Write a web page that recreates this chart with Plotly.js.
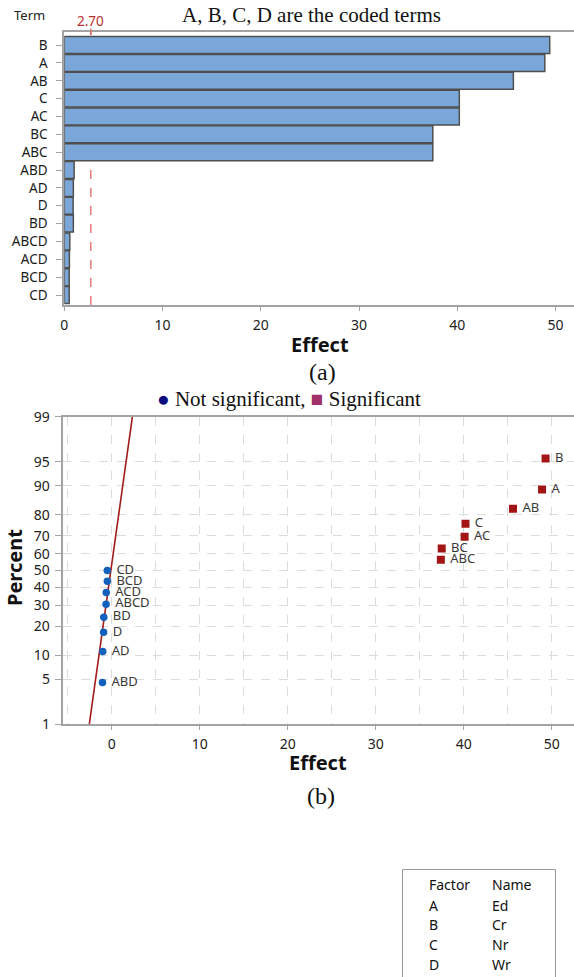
<!DOCTYPE html>
<html><head><meta charset="utf-8">
<script src="https://cdn.plot.ly/plotly-3.0.1.min.js"></script>
<style>html,body{margin:0;padding:0;background:#fff;}#chart{width:574px;height:977px;}</style>
</head><body><div id="chart"></div>
<script>
// ---- (a) Pareto chart of standardized effects ----
const terms = ['B','A','AB','C','AC','BC','ABC','ABD','AD','D','BD','ABCD','ACD','BCD','CD'];
const paretoEffects = [49.4,48.9,45.7,40.2,40.2,37.5,37.5,1.0,0.92,0.9,0.92,0.56,0.52,0.5,0.5];
const marginOfError = 2.70;

// ---- (b) Normal probability plot ----
const nsTerms = ['ABD','AD','D','BD','ABCD','ACD','BCD','CD'];
const nsEffects = [-1.05,-1.02,-0.92,-0.9,-0.64,-0.62,-0.5,-0.5];
const nsPercent = [4.5,11,17.5,24,30.5,37,43.5,50];
const sigTerms = ['ABC','BC','AC','C','AB','A','B'];
const sigEffects = [37.4,37.5,40.1,40.2,45.6,48.9,49.3];
const sigPercent = [56.5,63,69.5,76,82.5,89,95.5];
const fitEffects = [-2.55,2.35];
const fitPercent = [1,99];
const percentTicks = [1,5,10,20,30,40,50,60,70,80,90,95,99];

// ---- factor table ----
const factors = ['A','B','C','D'];
const factorNames = ['Ed','Cr','Nr','Wr'];

// normal probability scale (inverse normal CDF)
function normInv(p){
  const a=[-3.969683028665376e+01,2.209460984245205e+02,-2.759285104469687e+02,1.383577518672690e+02,-3.066479806614716e+01,2.506628277459239e+00];
  const b=[-5.447609879822406e+01,1.615858368580409e+02,-1.556989798598866e+02,6.680131188771972e+01,-1.328068155288572e+01];
  const c=[-7.784894002430293e-03,-3.223964580411365e-01,-2.400758277161838e+00,-2.549732539343734e+00,4.374664141464968e+00,2.938163982698783e+00];
  const d=[7.784695709041462e-03,3.224671290700398e-01,2.445134137142996e+00,3.754408661907416e+00];
  const pl=0.02425, ph=1-pl; let q,r;
  if(p<pl){q=Math.sqrt(-2*Math.log(p));return (((((c[0]*q+c[1])*q+c[2])*q+c[3])*q+c[4])*q+c[5])/((((d[0]*q+d[1])*q+d[2])*q+d[3])*q+1);}
  if(p<=ph){q=p-0.5;r=q*q;return (((((a[0]*r+a[1])*r+a[2])*r+a[3])*r+a[4])*r+a[5])*q/(((((b[0]*r+b[1])*r+b[2])*r+b[3])*r+b[4])*r+1);}
  q=Math.sqrt(-2*Math.log(1-p));return -(((((c[0]*q+c[1])*q+c[2])*q+c[3])*q+c[4])*q+c[5])/((((d[0]*q+d[1])*q+d[2])*q+d[3])*q+1);
}
const zp = v => normInv(v/100);

const W=574, H=977;
const px = x => x/W;
const py = y => 1 - y/H;
const SANS = 'Noto Sans, Open Sans, sans-serif';
const SERIF = 'Liberation Serif, Times New Roman, serif';
const AX = '#a3a3a3';
const GRID = '#dcdcdc';

const traces = [
  {type:'bar', orientation:'h', x:paretoEffects, y:terms, xaxis:'x', yaxis:'y',
   marker:{color:'#7ba7d8', line:{color:'#4f4f4f', width:1.5}}, hoverinfo:'x+y'},
  {type:'scatter', mode:'lines', x:fitEffects, y:fitPercent.map(zp), xaxis:'x2', yaxis:'y2',
   line:{color:'#a31b1b', width:1.6}, hoverinfo:'skip'},
  {type:'scatter', mode:'markers+text', x:nsEffects, y:nsPercent.map(zp), text:nsTerms,
   texttemplate:'\u00a0%{text}',
   textposition:'middle right', textfont:{family:SANS, size:13, color:'#3a3a3a'},
   xaxis:'x2', yaxis:'y2', marker:{symbol:'circle', size:7.5, color:'#1261bd'},
   customdata:nsPercent, hovertemplate:'%{text}: %{x}, %{customdata}%<extra></extra>'},
  {type:'scatter', mode:'markers+text', x:sigEffects, y:sigPercent.map(zp), text:sigTerms,
   texttemplate:'\u00a0%{text}',
   textposition:'middle right', textfont:{family:SANS, size:13, color:'#3a3a3a'},
   xaxis:'x2', yaxis:'y2', marker:{symbol:'square', size:8, color:'#a31515'},
   customdata:sigPercent, hovertemplate:'%{text}: %{x}, %{customdata}%<extra></extra>'}
];

function ann(text, x, y, font, extra){
  return Object.assign({text, x:px(x), y:py(y), xref:'paper', yref:'paper', showarrow:false,
    xanchor:'center', yanchor:'middle', font}, extra||{});
}

const annotations = [
  ann('A, B, C, D are the coded terms', 311, 15, {family:SERIF, size:21, color:'#111'}),
  ann('Term', 29, 15.5, {family:SANS, size:13, color:'#222'}),
  {text:marginOfError.toFixed(2), x:marginOfError, xref:'x', y:py(20.5), yref:'paper', showarrow:false,
   xanchor:'center', yanchor:'middle', font:{family:SANS, size:13.5, color:'#b8302e'}},
  ann('<b>Effect</b>', 320, 344, {family:SANS, size:20, color:'#111'}),
  ann('(a)', 322, 372, {family:SERIF, size:24, color:'#111'}),
  ann('<span style="color:#0b0b80">●</span> Not significant, <span style="color:#a0306a">■</span> Significant',
      289, 399, {family:SERIF, size:21, color:'#111'}),
  ann('<b>Effect</b>', 318, 762, {family:SANS, size:20, color:'#111'}),
  ann('(b)', 321, 796, {family:SERIF, size:24, color:'#111'}),
  ann('<b>Percent</b>', 14, 568, {family:SANS, size:20, color:'#111'}, {textangle:-90}),
  ann('Factor', 427, 884, {family:SANS, size:14, color:'#111'}, {xanchor:'left'}),
  ann('Name', 490, 884, {family:SANS, size:14, color:'#111'}, {xanchor:'left'})
];
factors.forEach((f,i)=>{
  const yy = 905 + i*19.7;
  annotations.push(ann(f, 427, yy, {family:SANS, size:14, color:'#111'}, {xanchor:'left'}));
  annotations.push(ann(factorNames[i], 490, yy, {family:SANS, size:14, color:'#111'}, {xanchor:'left'}));
});

const shapes = [
  {type:'line', layer:'below', xref:'x', yref:'paper', x0:marginOfError, x1:marginOfError,
   y0:py(305), y1:py(32), line:{color:'#e06666', width:1.3, dash:'dash'}},
  {type:'line', layer:'above', xref:'x', yref:'paper', x0:marginOfError, x1:marginOfError,
   y0:py(35), y1:py(28.5), line:{color:'#e06666', width:1.3}},
  {type:'path', xref:'paper', yref:'paper',
   path:`M ${px(402.5)} ${py(985)} L ${px(402.5)} ${py(869.5)} L ${px(555.5)} ${py(869.5)} L ${px(555.5)} ${py(985)}`,
   line:{color:'#9a9a9a', width:1}}
];

const layout = {
  width:W, height:H, margin:{l:0,r:0,t:0,b:0}, paper_bgcolor:'#fff', plot_bgcolor:'#fff',
  showlegend:false, bargap:0.05, font:{family:SANS, color:'#222'},
  xaxis:{domain:[px(64.3),1], range:[0,51.87], anchor:'y', dtick:10, tick0:0,
    showline:true, linecolor:AX, linewidth:2, mirror:true, ticks:'outside', ticklen:4, tickcolor:AX,
    showgrid:false, zeroline:false, tickfont:{family:SANS, size:14, color:'#222'}, ticklabelstandoff:2},
  yaxis:{domain:[py(305), py(31.7)], type:'category', range:[14.56,-0.75], autorange:false, anchor:'x',
    showline:true, linecolor:AX, linewidth:2, ticks:'outside', ticklen:6, tickcolor:AX,
    showgrid:false, zeroline:false, tickfont:{family:SANS, size:13.5, color:'#1a1a1a'}, ticklabelstandoff:6},
  xaxis2:{domain:[px(62.7),1], range:[-5.57,52.53], anchor:'y2', dtick:10, tick0:0,
    showline:true, linecolor:AX, linewidth:2, mirror:true, ticks:'outside', ticklen:4, tickcolor:AX,
    showgrid:true, gridcolor:GRID, gridwidth:1, griddash:'dash',
    minor:{dtick:5, tick0:0, showgrid:true, gridcolor:GRID, gridwidth:1, griddash:'dash', ticks:''},
    zeroline:false, tickfont:{family:SANS, size:14, color:'#222'}, ticklabelstandoff:2},
  yaxis2:{domain:[py(724.3), py(416.7)], range:[zp(1), zp(99)], autorange:false, anchor:'x2',
    tickmode:'array', tickvals:percentTicks.map(zp), ticktext:percentTicks.map(String),
    showline:true, linecolor:AX, linewidth:2, ticks:'outside', ticklen:6, tickcolor:AX,
    showgrid:true, gridcolor:GRID, gridwidth:1, griddash:'dash',
    zeroline:false, tickfont:{family:SANS, size:14, color:'#222'}, ticklabelstandoff:2},
  annotations, shapes
};

Plotly.newPlot('chart', traces, layout, {displayModeBar:false});
</script></body></html>
